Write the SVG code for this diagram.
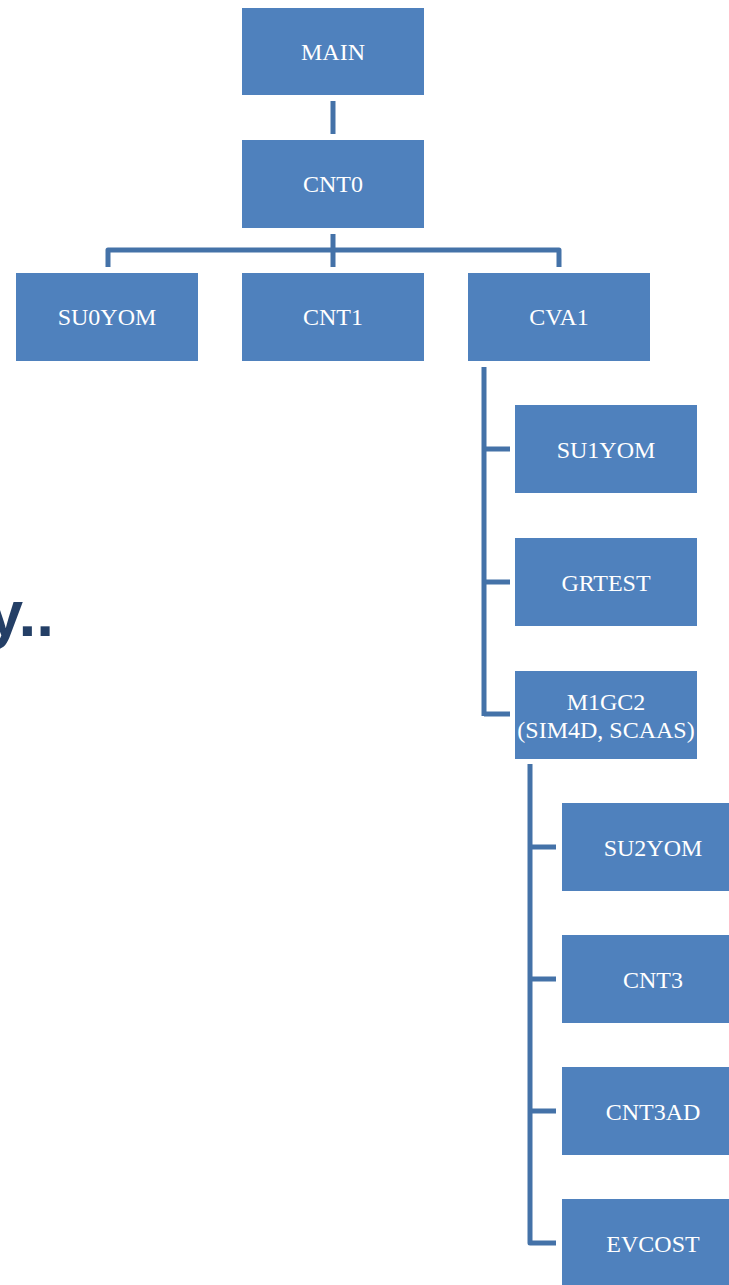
<svg xmlns="http://www.w3.org/2000/svg" width="729" height="1285" viewBox="0 0 729 1285">
<style>
.box{fill:#4F81BD;}
.lbl{font-family:"Liberation Serif","Times New Roman",serif;font-size:24px;fill:#FFFFFF;text-anchor:middle;}
.con{fill:none;stroke:#4472A8;stroke-width:5;stroke-linejoin:round;}
.big{font-family:"Liberation Sans",Arial,sans-serif;font-weight:bold;font-size:64px;fill:#243F66;text-anchor:end;}
</style>
<rect width="729" height="1285" fill="#FFFFFF"/>
<text class="big" x="54" y="636">y..</text>
<g id="connectors">
<path class="con" d="M333 101V134"/>
<path class="con" d="M333 234V267M108 267V250H559V267"/>
<path class="con" d="M484 367V716M484 449H510M484 582H510M484 714H510"/>
<path class="con" d="M530 764V1243H556M530 847H556M530 979H556M530 1111H556"/>
</g>
<g id="MAIN"><rect class="box" x="242" y="8" width="182" height="87"/><text class="lbl" x="333" y="60">MAIN</text></g>
<g id="CNT0"><rect class="box" x="242" y="140" width="182" height="88"/><text class="lbl" x="333" y="192">CNT0</text></g>
<g id="SU0YOM"><rect class="box" x="16" y="273" width="182" height="88"/><text class="lbl" x="107" y="325">SU0YOM</text></g>
<g id="CNT1"><rect class="box" x="242" y="273" width="182" height="88"/><text class="lbl" x="333" y="325">CNT1</text></g>
<g id="CVA1"><rect class="box" x="468" y="273" width="182" height="88"/><text class="lbl" x="559" y="325">CVA1</text></g>
<g id="SU1YOM"><rect class="box" x="515" y="405" width="182" height="88"/><text class="lbl" x="606" y="458">SU1YOM</text></g>
<g id="GRTEST"><rect class="box" x="515" y="538" width="182" height="88"/><text class="lbl" x="606" y="591">GRTEST</text></g>
<g id="M1GC2"><rect class="box" x="515" y="671" width="182" height="88"/><text class="lbl" x="606" y="710">M1GC2</text><text class="lbl" x="606" y="738">(SIM4D, SCAAS)</text></g>
<g id="SU2YOM"><rect class="box" x="562" y="803" width="182" height="88"/><text class="lbl" x="653" y="856">SU2YOM</text></g>
<g id="CNT3"><rect class="box" x="562" y="935" width="182" height="88"/><text class="lbl" x="653" y="988">CNT3</text></g>
<g id="CNT3AD"><rect class="box" x="562" y="1067" width="182" height="88"/><text class="lbl" x="653" y="1120">CNT3AD</text></g>
<g id="EVCOST"><rect class="box" x="562" y="1199" width="182" height="88"/><text class="lbl" x="653" y="1252">EVCOST</text></g>
</svg>
